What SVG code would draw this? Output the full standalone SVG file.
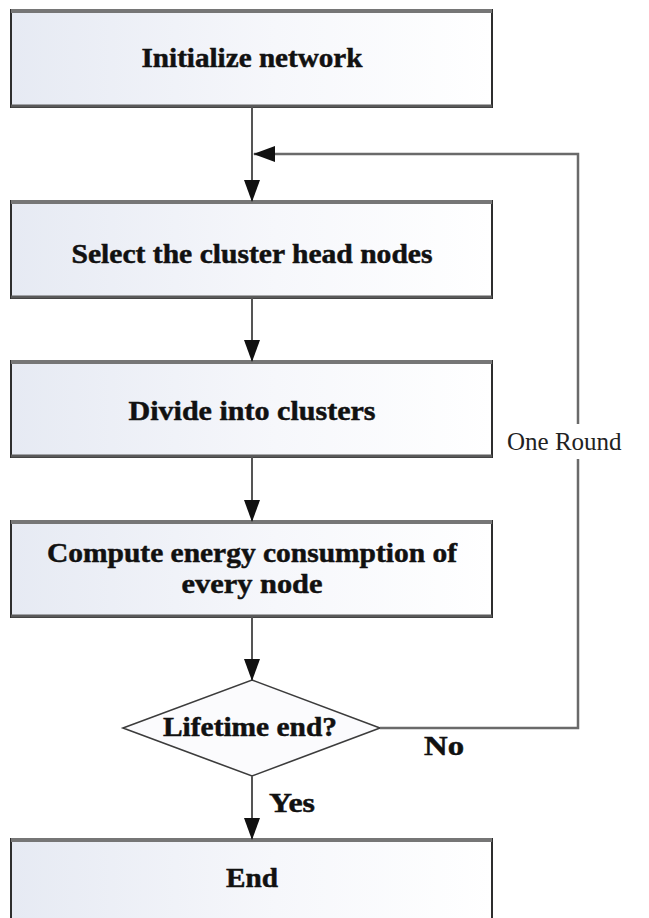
<svg xmlns="http://www.w3.org/2000/svg" width="649" height="918" viewBox="0 0 649 918">
  <defs>
    <linearGradient id="boxFill" x1="0" y1="0" x2="1" y2="0">
      <stop offset="0" stop-color="#e6eaf3"/>
      <stop offset="0.55" stop-color="#f6f7fb"/>
      <stop offset="1" stop-color="#ffffff"/>
    </linearGradient>
    <marker id="arrow" markerUnits="userSpaceOnUse" markerWidth="22" markerHeight="16" refX="21" refY="8" orient="auto">
      <path d="M0,0 L22,8 L0,16 z" fill="#111"/>
    </marker>
    <style>
      .box { fill: url(#boxFill); stroke: #2e2e2e; stroke-width: 2; }
      .edge-top { stroke: #767676; stroke-width: 4; }
      .edge-bot { stroke: #5a5a5a; stroke-width: 3; }
      .dia { fill: #fbfbfd; stroke: #3c3c3c; stroke-width: 1.6; }
      .lbl { font-family: "Liberation Serif", "Times New Roman", serif; font-weight: bold; font-size: 28px; fill: #111; stroke: #111; stroke-width: 0.5; text-anchor: middle; }
      .side { font-family: "Liberation Serif", "Times New Roman", serif; font-weight: bold; font-size: 28px; fill: #111; stroke: #111; stroke-width: 0.5; }
      .note { font-family: "Liberation Serif", "Times New Roman", serif; font-size: 25px; fill: #222; }
      .conn { fill: none; stroke: #555; stroke-width: 2; }
      .loop { fill: none; stroke: #6a6a6a; stroke-width: 2.5; }
    </style>
  </defs>

  <rect width="649" height="918" fill="#ffffff"/>

  <!-- process steps -->
  <g id="init">
    <rect class="box" x="11" y="10" width="481" height="97"/>
    <line class="edge-top" x1="11" y1="11" x2="492" y2="11"/>
    <line class="edge-bot" x1="11" y1="106" x2="492" y2="106"/>
    <text class="lbl" x="252" y="67" textLength="221" lengthAdjust="spacingAndGlyphs">Initialize network</text>
  </g>

  <g id="select">
    <rect class="box" x="11" y="201" width="481" height="97"/>
    <line class="edge-top" x1="11" y1="202" x2="492" y2="202"/>
    <line class="edge-bot" x1="11" y1="297" x2="492" y2="297"/>
    <text class="lbl" x="252" y="263" textLength="361" lengthAdjust="spacingAndGlyphs">Select the cluster head nodes</text>
  </g>

  <g id="divide">
    <rect class="box" x="11" y="361" width="481" height="96"/>
    <line class="edge-top" x1="11" y1="362" x2="492" y2="362"/>
    <line class="edge-bot" x1="11" y1="456" x2="492" y2="456"/>
    <text class="lbl" x="252" y="420" textLength="247" lengthAdjust="spacingAndGlyphs">Divide into clusters</text>
  </g>

  <g id="compute">
    <rect class="box" x="11" y="521" width="481" height="96"/>
    <line class="edge-top" x1="11" y1="522" x2="492" y2="522"/>
    <line class="edge-bot" x1="11" y1="616" x2="492" y2="616"/>
    <text class="lbl" x="252" y="562" textLength="410" lengthAdjust="spacingAndGlyphs">Compute energy consumption of</text>
    <text class="lbl" x="252" y="593" textLength="141" lengthAdjust="spacingAndGlyphs">every node</text>
  </g>

  <g id="lifetime">
    <polygon class="dia" points="252,680 380,728 252,776 123,728"/>
    <text class="lbl" x="250" y="736" textLength="174" lengthAdjust="spacingAndGlyphs">Lifetime end?</text>
  </g>

  <g id="end">
    <rect class="box" x="11" y="839" width="481" height="90"/>
    <line class="edge-top" x1="11" y1="840" x2="492" y2="840"/>
    <text class="lbl" x="252" y="887" textLength="52" lengthAdjust="spacingAndGlyphs">End</text>
  </g>

  <!-- connectors -->
  <g id="connectors">
    <path class="conn" d="M252,107 V201" marker-end="url(#arrow)"/>
    <path class="conn" d="M252,298 V361" marker-end="url(#arrow)"/>
    <path class="conn" d="M252,457 V521" marker-end="url(#arrow)"/>
    <path class="conn" d="M252,617 V680" marker-end="url(#arrow)"/>
    <path class="conn" d="M252,776 V839" marker-end="url(#arrow)"/>
    <path class="loop" d="M380,728 H578 V459 M578,424 V154 H254" marker-end="url(#arrow)"/>
    <text class="side" x="424" y="755" textLength="40" lengthAdjust="spacingAndGlyphs">No</text>
    <text class="side" x="269" y="812" textLength="46" lengthAdjust="spacingAndGlyphs">Yes</text>
    <text class="note" x="507" y="450">One Round</text>
  </g>
</svg>
